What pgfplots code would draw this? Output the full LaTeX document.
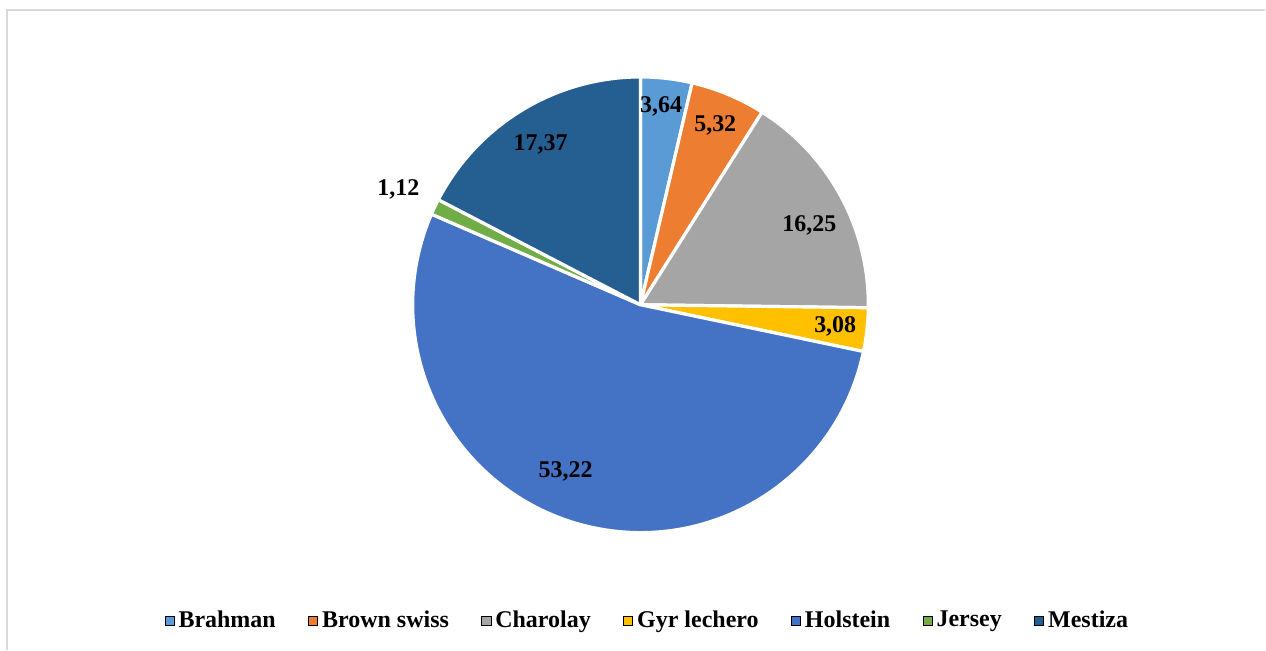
\documentclass[border=0pt]{standalone}
\usepackage{fontspec}
\setmainfont{Liberation Serif}
\usepackage{pgfplots}
\usepackage{pgfplotstable}
\pgfplotsset{compat=1.18}
\definecolor{c0}{HTML}{5B9BD5}
\definecolor{c1}{HTML}{ED7D31}
\definecolor{c2}{HTML}{A5A5A5}
\definecolor{c3}{HTML}{FFC000}
\definecolor{c4}{HTML}{4472C4}
\definecolor{c5}{HTML}{70AD47}
\definecolor{c6}{HTML}{255E91}
\definecolor{frame}{HTML}{D9D9D9}

% value, label radius (fraction of pie radius), label angle shift
\pgfplotstableread[col sep=comma]{
name,value,lr,la
Brahman,3.64,0.875,0.6
Brown swiss,5.32,0.851,0
Charolay,16.25,0.818,-3.4
Gyr lechero,3.08,0.86,0
Holstein,53.22,0.80,-6.6
Jersey,1.12,1.177,0
Mestiza,17.37,0.828,0.7
}\piedata

\begin{document}
\begin{tikzpicture}
\begin{axis}[
  x=114pt, y=114pt,
  xmin=-2.8114, xmax=2.7412, ymin=-1.5132, ymax=1.3377,
  hide axis, clip=false,
  legend columns=7,
  legend style={draw=none, fill=none, at={(0.5125,0.0446)}, anchor=center,
    font=\bfseries\fontsize{12}{14}\selectfont,
    /tikz/every even column/.append style={column sep=14.2pt}},
  legend image code/.code={\fill[#1] (-3.2pt,-2.3pt) rectangle (1.4pt,2.3pt);},
]
\path (axis cs:-2.8114,-1.5132) rectangle (axis cs:2.7412,1.3377);
\draw[frame, line width=1pt] (axis cs:-2.781,-1.5132) -- (axis cs:-2.781,1.2917) -- (axis cs:2.7412,1.2917);
\pgfplotstablegetrowsof{\piedata}
\pgfmathtruncatemacro\N{\pgfplotsretval-1}
\def\cum{0}
% wedges
\pgfplotsforeachungrouped \k in {0,...,\N}{%
  \pgfplotstablegetelem{\k}{value}\of\piedata \let\v\pgfplotsretval
  \pgfplotstablegetelem{\k}{name}\of\piedata \let\nm\pgfplotsretval
  \pgfmathsetmacro\a{90-3.6*\cum}
  \pgfmathsetmacro\b{90-3.6*(\cum+\v)}
  \pgfmathsetmacro\sx{cos(\a)}
  \pgfmathsetmacro\sy{sin(\a)}
  \pgfmathsetmacro\cum{\cum+\v}
  \edef\temp{\noexpand\fill[c\k, draw=white, line width=1.6pt, line join=round]
    (axis cs:0,0) -- (axis cs:\sx,\sy) arc[start angle=\a, end angle=\b, radius=114pt] -- cycle;
    \noexpand\addlegendimage{fill=c\k}\noexpand\addlegendentry{\nm}}%
  \temp
}
% labels
\def\cum{0}
\pgfplotsforeachungrouped \k in {0,...,\N}{%
  \pgfplotstablegetelem{\k}{value}\of\piedata \let\v\pgfplotsretval
  \pgfplotstablegetelem{\k}{lr}\of\piedata \let\lr\pgfplotsretval
  \pgfplotstablegetelem{\k}{la}\of\piedata \let\la\pgfplotsretval
  \pgfmathsetmacro\m{90-3.6*(\cum+\v/2)+\la}
  \pgfmathsetmacro\lx{\lr*cos(\m)}
  \pgfmathsetmacro\ly{\lr*sin(\m)}
  \pgfmathsetmacro\cum{\cum+\v}
  \edef\temp{\noexpand\node[font=\noexpand\bfseries\noexpand\fontsize{12}{14}\noexpand\selectfont]
    at (axis cs:\lx,\ly) {\noexpand\pgfmathprintnumber[fixed, fixed zerofill, precision=2, use comma, assume math mode=true]{\v}};}%
  \temp
}
\end{axis}
\end{tikzpicture}
\end{document}
